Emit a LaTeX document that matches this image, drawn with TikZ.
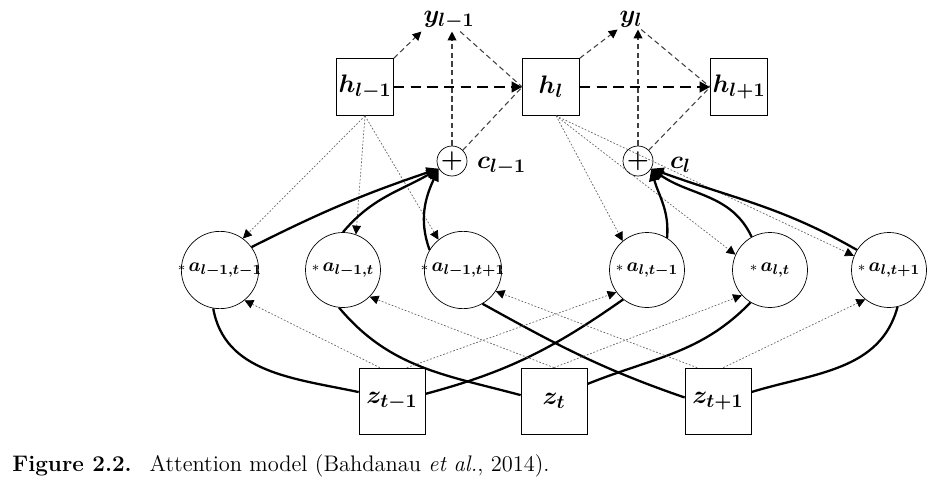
\documentclass[tikz,border=0pt]{standalone}
\usepackage{amsmath}
\usepackage{amssymb}
\usepackage{tikz}
\usetikzlibrary{arrows.meta, positioning, calc}

\begin{document}
\begin{tikzpicture}[
		hbox/.style={draw, minimum size=1.14cm, inner sep=0pt, font=\fontsize{15}{17}\selectfont},
		zbox/.style={hbox, minimum size=1.32cm},
		attn/.style={draw, circle, minimum size=1.5cm, inner sep=-2pt, font=\fontsize{11}{13}\selectfont},
		plus/.style={draw, circle, minimum size=0.6cm, inner sep=0pt, font=\fontsize{15}{17}\selectfont},
		lab/.style={inner sep=1pt, font=\fontsize{15}{17}\selectfont},
		tip/.style={-{Triangle[length=5pt,width=5pt,color=black]}},
		recur/.style={line width=1.4pt, dash pattern=on 6pt off 3.5pt, -{Triangle[length=6pt,width=6pt]}},
		outp/.style={line width=0.6pt, black!75, dash pattern=on 3pt off 2pt},
		query/.style={line width=0.4pt, black!60, dash pattern=on 1pt off 1pt, tip},
		weight/.style={line width=1.3pt, -{Triangle[length=7pt,width=6pt]}},
		enc/.style={line width=1.3pt}
	]
		\useasboundingbox (0,0) rectangle (18.94,9.66);
		
		% Decoder states
		\node[hbox] (h1) at (7.30,7.92) {$\boldsymbol{h_{l-1}}$};
		\node[hbox] (h2) at (11.02,7.92) {$\boldsymbol{h_{l}}$};
		\node[hbox] (h3) at (14.78,7.92) {$\boldsymbol{h_{l+1}}$};
		
		% Outputs
		\node[lab, anchor=base] (y1) at (8.98,9.21) {$\boldsymbol{y_{l-1}}$};
		\node[lab, anchor=base] (y2) at (12.62,9.21) {$\boldsymbol{y_{l}}$};
		
		% Context vectors
		\node[plus] (p1) at (9.04,6.44) {$\boldsymbol{+}$};
		\node[plus] (p2) at (12.76,6.44) {$\boldsymbol{+}$};
		\node[lab, anchor=base west] (c1) at (9.50,6.30) {$\boldsymbol{c_{l-1}}$};
		\node[lab, anchor=base west] (c2) at (13.36,6.30) {$\boldsymbol{c_{l}}$};
		
		% Attention weights
		\node[attn] (a11) at (4.40,4.26) {${\scriptstyle\ast}\,\boldsymbol{a_{l-1,t-1}}$};
		\node[attn] (a12) at (6.86,4.26) {${\scriptstyle\ast}\,\boldsymbol{a_{l-1,t}}$};
		\node[attn] (a13) at (9.26,4.26) {${\scriptstyle\ast}\,\boldsymbol{a_{l-1,t+1}}$};
		\node[attn] (a21) at (12.94,4.26) {${\scriptstyle\ast}\,\boldsymbol{a_{l,t-1}}$};
		\node[attn] (a22) at (15.40,4.26) {${\scriptstyle\ast}\,\boldsymbol{a_{l,t}}$};
		\node[attn] (a23) at (17.78,4.26) {${\scriptstyle\ast}\,\boldsymbol{a_{l,t+1}}$};
		
		% Encoder annotations
		\node[zbox] (z1) at (7.84,1.64) {$\boldsymbol{z_{t-1}}$};
		\node[zbox] (z2) at (11.08,1.64) {$\boldsymbol{z_{t}}$};
		\node[zbox] (z3) at (14.36,1.64) {$\boldsymbol{z_{t+1}}$};
		
		\node[anchor=west, inner sep=0pt, font=\fontsize{12.8}{14}\selectfont] (cap) at (0.24,0.34)
			{\textbf{Figure 2.2.}\hspace{0.8em}Attention model (Bahdanau \textit{et al.}, 2014).};
		
		% Recurrence
		\draw[recur] (h1) -- (h2);
		\draw[recur] (h2) -- (h3);
		
		% Output and feedback
		\draw[outp, tip] (h1.north east) -- (y1.south west);
		\draw[outp, tip] (p1.north) -- (p1.north |- y1.south);
		\draw[outp] (y1.-45) -- (h2.west);
		\draw[outp] (p1.45) -- (h2.west);
		\draw[outp, tip] (h2.north east) -- (y2.south west);
		\draw[outp, tip] (p2.north) -- (p2.north |- y2.south);
		\draw[outp] (y2.-45) -- (h3.west);
		\draw[outp] (p2.45) -- (h3.west);
		
		% Queries from decoder
		\draw[query] (h1.south) -- (a11.54);
		\draw[query] (h1.south) -- (a12.70);
		\draw[query] (h1.south) -- (a13.129);
		\draw[query] (h2.-80) -- (a21.130);
		\draw[query] (h2.-80) -- (a22.156);
		\draw[query] (h2.-80) -- (a23.158);
		
		% Weighted sums
		\draw[weight] (a11.36) to[bend left=4] (p1.210);
		\draw[weight] (a12.90) to[out=50, in=210] (p1.210);
		\draw[weight] (a13.149) to[out=110, in=245] (p1.210);
		\draw[weight] (a21.58) to[out=85, in=-75] (p2.-30);
		\draw[weight] (a22.119) to[out=115, in=-35] (p2.-30);
		\draw[weight] (a23.148) to[out=150, in=-20] (p2.-30);
		
		% Encoder links
		\draw[enc] (z1.165) to[out=168, in=-80] (a11.-100);
		\draw[enc] (z1.12) to[out=15, in=215] (a21.231);
		\draw[enc] (z2.170) to[out=165, in=-50] (a12.-96);
		\draw[enc] (z2.27) to[out=22, in=226] (a22.239);
		\draw[enc] (z3.174) to[out=161, in=-29] (a13.-60);
		\draw[enc] (z3.15) to[out=17, in=-105] (a23.-77);
		
		% Keys from encoder
		\draw[query] (z1.110) -- (a11.-51);
		\draw[query] (z1.66) -- (a21.216);
		\draw[query] (z2.north) -- (a12.-45);
		\draw[query] (z2.north) -- (a22.222);
		\draw[query] (z3.122) -- (a13.-33);
		\draw[query] (z3.81) -- (a23.231);
	\end{tikzpicture}
\end{document}
